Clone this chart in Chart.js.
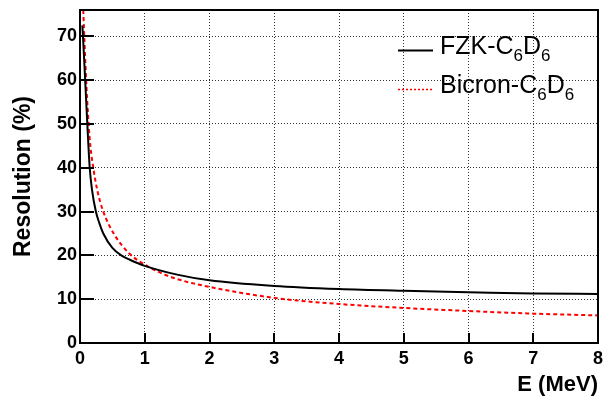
<!DOCTYPE html>
<html>
<head>
<meta charset="utf-8">
<script src="https://cdn.jsdelivr.net/npm/chart.js@4"></script>
<style>
  html, body { margin: 0; padding: 0; background: #fff; }
  #wrap { width: 604px; height: 399px; }
</style>
</head>
<body>
<div id="wrap"><canvas id="myChart" width="604" height="399"></canvas></div>
<script>
'use strict';

// energy (MeV) and resolution (%) samples for each detector
const energyFZK = [0.036, 0.046, 0.08, 0.113, 0.15, 0.185, 0.245, 0.3, 0.36, 0.5, 0.65, 0.77, 1.0, 1.5, 2, 3, 4, 5, 6, 7, 8];
const resFZK    = [72.5, 70, 60, 50, 40, 35, 30, 27.3, 25, 21.7, 19.9, 19.0, 17.6, 15.6, 14.3, 13.0, 12.3, 11.9, 11.6, 11.3, 11.2];

const energyBicron = [0.05, 0.066, 0.095, 0.133, 0.16, 0.205, 0.265, 0.36, 0.52, 0.77, 1.0, 1.2, 1.5, 2, 3, 4, 5, 6, 7, 8];
const resBicron    = [76, 70, 60, 50, 45, 40, 35, 30, 25, 20.3, 17.9, 16.3, 14.6, 12.8, 10.3, 8.9, 8.0, 7.3, 6.7, 6.3];

const xTicks = [0, 1, 2, 3, 4, 5, 6, 7, 8];
const yTicks = [0, 10, 20, 30, 40, 50, 60, 70];

const legendLabels = ['FZK-C_6D_6', 'Bicron-C_6D_6'];

const toPoints = (xs, ys) => xs.map((x, i) => ({ x: x, y: ys[i] }));

const ctx = document.getElementById('myChart').getContext('2d');

// frame, inward tick marks, axis titles and legend
const decorations = {
  id: 'decorations',
  afterDatasetsDraw: (chart) => {
    const { ctx, chartArea: a, scales } = chart;
    ctx.save();
    ctx.strokeStyle = '#000';
    ctx.lineWidth = 2;
    ctx.setLineDash([]);

    // inward ticks
    ctx.beginPath();
    xTicks.forEach(v => {
      const px = Math.round(scales.x.getPixelForValue(v));
      ctx.moveTo(px, a.bottom);
      ctx.lineTo(px, a.bottom - 10);
    });
    yTicks.forEach(v => {
      const py = Math.round(scales.y.getPixelForValue(v));
      ctx.moveTo(a.left, py);
      ctx.lineTo(a.left + 14, py);
    });
    ctx.stroke();

    ctx.strokeRect(a.left, a.top, a.right - a.left, a.bottom - a.top);

    // axis titles
    ctx.fillStyle = '#000';
    ctx.font = 'bold 22px "Liberation Sans", Arial, sans-serif';
    ctx.textAlign = 'right';
    ctx.textBaseline = 'alphabetic';
    ctx.fillText('E (MeV)', a.right, 391);

    ctx.save();
    ctx.translate(30, (a.top + a.bottom) / 2);
    ctx.rotate(-Math.PI / 2);
    ctx.font = 'bold 23px "Liberation Sans", Arial, sans-serif';
    ctx.textAlign = 'center';
    ctx.fillText('Resolution (%)', 0, 0);
    ctx.restore();

    // legend with subscripts
    chart.data.datasets.forEach((ds, i) => {
      const baseY = 54 + i * 39;
      const lineY = baseY - 3.5;
      ctx.beginPath();
      ctx.strokeStyle = ds.borderColor;
      ctx.lineWidth = i === 0 ? 2 : 1.5;
      ctx.setLineDash(i === 0 ? [] : [2, 2]);
      ctx.moveTo(398, lineY);
      ctx.lineTo(433, lineY);
      ctx.stroke();
      ctx.setLineDash([]);

      let x = 440;
      ctx.textAlign = 'left';
      ctx.fillStyle = '#000';
      const parts = legendLabels[i].split(/(_\d)/).filter(s => s.length);
      parts.forEach(p => {
        if (p[0] === '_') {
          ctx.font = '17px "Liberation Sans", Arial, sans-serif';
          ctx.fillText(p.slice(1), x, baseY + 7);
          x += ctx.measureText(p.slice(1)).width;
        } else {
          ctx.font = '25px "Liberation Sans", Arial, sans-serif';
          ctx.fillText(p, x, baseY);
          x += ctx.measureText(p).width;
        }
      });
    });
    ctx.restore();
  }
};

const config = {
  type: 'line',
  data: {
    datasets: [{
      label: 'FZK-C6D6',
      data: toPoints(energyFZK, resFZK),
      borderColor: '#000000',
      borderWidth: 2,
      pointRadius: 0,
      cubicInterpolationMode: 'monotone',
      fill: false
    }, {
      label: 'Bicron-C6D6',
      data: toPoints(energyBicron, resBicron),
      borderColor: '#ff0000',
      borderWidth: 2,
      borderDash: [4, 3],
      pointRadius: 0,
      cubicInterpolationMode: 'monotone',
      fill: false
    }]
  },
  options: {
    responsive: false,
    animation: false,
    layout: { padding: { left: 0, right: 6, top: 10, bottom: 0 } },
    plugins: {
      legend: { display: false },
      tooltip: { enabled: false }
    },
    scales: {
      x: {
        type: 'linear',
        min: 0,
        max: 8,
        afterBuildTicks: scale => { scale.ticks = xTicks.map(v => ({ value: v })); },
        afterFit: scale => {
          scale.height = 56;
          scale.paddingLeft = 0;
          scale.paddingRight = 0;
        },
        grid: { color: '#333', lineWidth: 1, drawTicks: false },
        border: { display: false, dash: [1, 2] },
        ticks: {
          padding: 5,
          maxRotation: 0,
          color: '#000',
          font: { family: '"Liberation Sans", Arial, sans-serif', size: 18, weight: 'bold' }
        }
      },
      y: {
        type: 'linear',
        min: 0,
        max: 76,
        afterBuildTicks: scale => { scale.ticks = yTicks.map(v => ({ value: v })); },
        afterFit: scale => {
          scale.width = 80;
          scale.paddingTop = 0;
          scale.paddingBottom = 0;
        },
        grid: { color: '#333', lineWidth: 1, drawTicks: false },
        border: { display: false, dash: [1, 2] },
        ticks: {
          padding: 3,
          color: '#000',
          font: { family: '"Liberation Sans", Arial, sans-serif', size: 18, weight: 'bold' }
        }
      }
    }
  },
  plugins: [decorations]
};

const myChart = new Chart(ctx, config);
</script>
</body>
</html>
